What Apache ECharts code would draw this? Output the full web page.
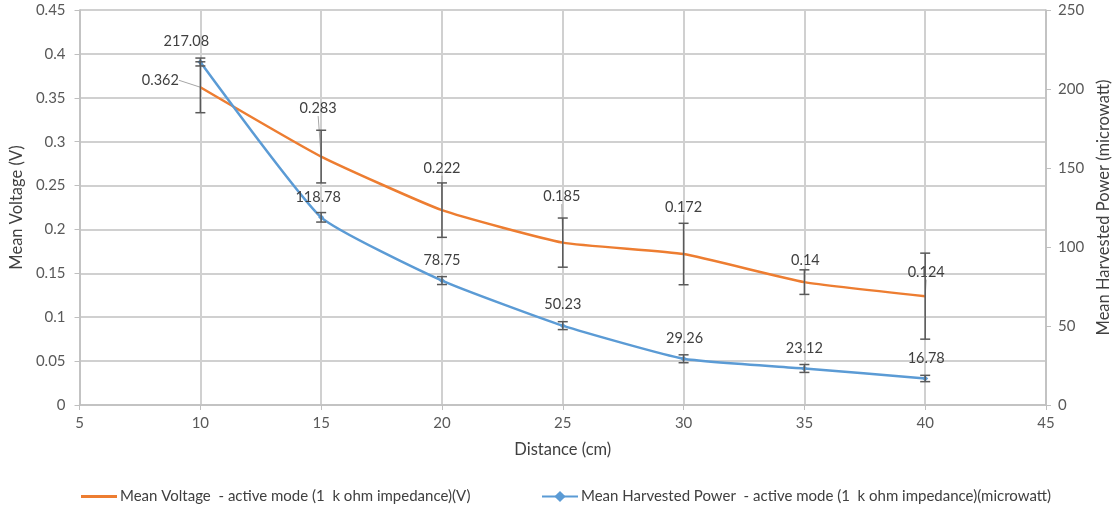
<!DOCTYPE html>
<html>
<head>
<meta charset="utf-8">
<script src="https://cdn.jsdelivr.net/npm/echarts@6/dist/echarts.min.js"></script>
<style>html,body{margin:0;padding:0;background:#fff;}#c{width:1120px;height:515px;}</style>
</head>
<body>
<div id="c"></div>
<script>
var distances = [10, 15, 20, 25, 30, 35, 40];
var voltage = [0.362, 0.283, 0.222, 0.185, 0.172, 0.14, 0.124];
var voltageErr = [0.029, 0.030, 0.031, 0.028, 0.035, 0.014, 0.049];
var power = [217.08, 118.78, 78.75, 50.23, 29.26, 23.12, 16.78];
var powerErr = [2.5, 3, 2.5, 2.5, 2.5, 2.5, 2];
var voltName = 'Mean Voltage  - active mode (1  k ohm impedance)(V)';
var powName = 'Mean Harvested Power  - active mode (1  k ohm impedance)(microwatt)';

// label offsets (layout only)
var voltLabelOffset = [[-40, -7], [-3, -48], [0, -42], [-1, -46], [0, -47], [1, -22], [1, -24]];
var powLabelOffset = [[-14, -21], [-3, -20], [0, -20], [0, -21], [1, -20], [0, -20], [1, -20]];

var FONT = 'Lato';
var voltData = distances.map(function (d, i) { return [d, voltage[i]]; });
var powData = distances.map(function (d, i) { return [d, power[i]]; });
var voltErrData = distances.map(function (d, i) { return [d, voltage[i] - voltageErr[i], voltage[i] + voltageErr[i]]; });
var powErrData = distances.map(function (d, i) { return [d, power[i] - powerErr[i], power[i] + powerErr[i]]; });

function errRender(params, api) {
  var x = api.value(0), lo = api.value(1), hi = api.value(2);
  var a = api.coord([x, hi]), b = api.coord([x, lo]);
  var w = 5;
  var st = { stroke: '#595959', lineWidth: 1.5 };
  return { type: 'group', children: [
    { type: 'line', shape: { x1: a[0], y1: a[1], x2: b[0], y2: b[1] }, style: st },
    { type: 'line', shape: { x1: a[0] - w, y1: a[1], x2: a[0] + w, y2: a[1] }, style: st },
    { type: 'line', shape: { x1: b[0] - w, y1: b[1], x2: b[0] + w, y2: b[1] }, style: st }
  ]};
}

var chart = echarts.init(document.getElementById('c'));
chart.setOption({
  animation: false,
  textStyle: { fontFamily: FONT },
  grid: { left: 77, right: 73, top: 10, bottom: 110, containLabel: false },
  legend: [
    { data: [{ name: voltName, icon: 'rect' }], left: 76, top: 484, itemWidth: 36, itemHeight: 3,
      textStyle: { fontFamily: FONT, fontSize: 15, color: '#404040', padding: [0, 0, 0, -2] } },
    { data: [powName], left: 536, top: 484, itemWidth: 36, itemHeight: 14,
      textStyle: { fontFamily: FONT, fontSize: 15, color: '#404040', padding: [0, 0, 0, -2] } }
  ],
  xAxis: {
    type: 'value', min: 5, max: 45, interval: 5,
    name: 'Distance (cm)', nameLocation: 'middle', nameGap: 36,
    nameTextStyle: { fontFamily: FONT, fontSize: 16.5, color: '#404040' },
    axisLine: { lineStyle: { color: '#bfbfbf', width: 1.5 } },
    axisTick: { show: true, length: 5, lineStyle: { color: '#bfbfbf' } },
    axisLabel: { fontFamily: FONT, fontSize: 15, color: '#595959', margin: 11 },
    splitLine: { show: true, lineStyle: { color: '#d0d0d0', width: 2 } }
  },
  yAxis: [
    { type: 'value', min: 0, max: 0.45, interval: 0.05,
      name: 'Mean Voltage (V)', nameLocation: 'middle', nameGap: 52, nameRotate: 90,
      nameTextStyle: { fontFamily: FONT, fontSize: 16.5, color: '#404040' },
      axisLine: { show: true, lineStyle: { color: '#bfbfbf', width: 1.5 } },
      axisTick: { show: true, length: 5, lineStyle: { color: '#bfbfbf' } },
      axisLabel: { fontFamily: FONT, fontSize: 15, color: '#595959', margin: 14,
        formatter: function (v) { return String(Math.round(v * 100) / 100); } },
      splitLine: { show: true, lineStyle: { color: '#d0d0d0', width: 2 } } },
    { type: 'value', min: 0, max: 250, interval: 50, position: 'right',
      name: 'Mean Harvested Power (microwatt)', nameLocation: 'middle', nameGap: 48, nameRotate: 90,
      nameTextStyle: { fontFamily: FONT, fontSize: 16.5, color: '#404040' },
      axisLine: { show: true, lineStyle: { color: '#bfbfbf', width: 1.5 } },
      axisTick: { show: true, length: 5, lineStyle: { color: '#bfbfbf' } },
      axisLabel: { fontFamily: FONT, fontSize: 15, color: '#595959', margin: 12 },
      splitLine: { show: false } }
  ],
  series: [
    { name: voltName, type: 'line', yAxisIndex: 0, data: voltData, smooth: 0.15,
      symbol: 'circle', symbolSize: 0.1, showSymbol: true,
      lineStyle: { color: '#ED7D31', width: 2.5 }, itemStyle: { color: '#ED7D31' },
      z: 3,
      label: { show: true, position: 'inside', fontFamily: FONT, fontSize: 14.5, color: '#404040',
        formatter: function (p) { return String(p.value[1]); } },
      labelLine: { show: true, lineStyle: { color: '#a6a6a6', width: 1 } },
      labelLayout: function (p) { var o = voltLabelOffset[p.dataIndex]; return { dx: o[0], dy: o[1] }; }
    },
    { name: powName, type: 'line', yAxisIndex: 1, data: powData, smooth: 0.15,
      symbol: 'diamond', symbolSize: 6, showSymbol: true,
      lineStyle: { color: '#5B9BD5', width: 2.5 }, itemStyle: { color: '#5B9BD5' },
      z: 3,
      label: { show: true, position: 'inside', fontFamily: FONT, fontSize: 14.5, color: '#404040',
        formatter: function (p) { return p.value[1].toFixed(2); } },
      labelLayout: function (p) { var o = powLabelOffset[p.dataIndex]; return { dx: o[0], dy: o[1] }; }
    },
    { name: 'vErr', type: 'custom', yAxisIndex: 0, data: voltErrData, renderItem: errRender, z: 4, silent: true },
    { name: 'pErr', type: 'custom', yAxisIndex: 1, data: powErrData, renderItem: errRender, z: 4, silent: true }
  ]
});
</script>
</body>
</html>
